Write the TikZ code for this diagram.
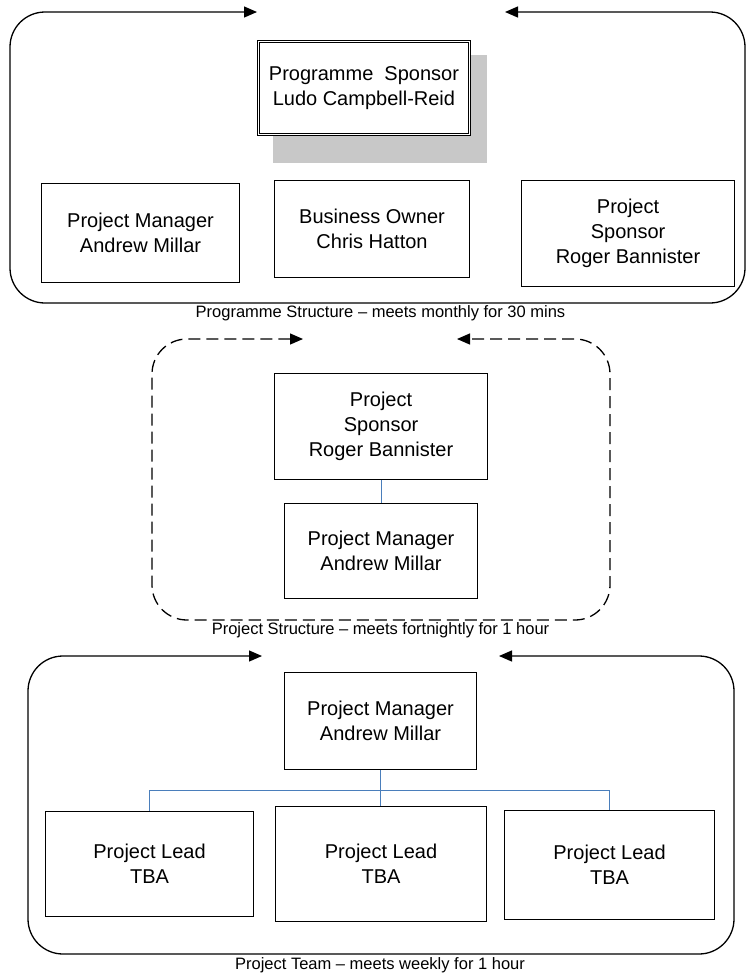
\documentclass[tikz,border=0pt]{standalone}
\usepackage{fontspec}
\setmainfont{Liberation Sans}
\usetikzlibrary{arrows.meta}
\definecolor{connblue}{RGB}{74,126,187}
\definecolor{shadegray}{RGB}{200,200,200}
\begin{document}
\begin{tikzpicture}[x=1pt,y=-1pt,
  box/.style={draw,line width=1.1pt,fill=white,align=center,inner sep=0pt,anchor=north west,
    font=\fontsize{20}{25}\selectfont},
  frame/.style={line width=1.3pt,rounded corners=35pt,
    {Triangle[length=13pt,width=11pt]}-{Triangle[length=13pt,width=11pt]}},
  captext/.style={font=\fontsize{16.5}{18}\selectfont,inner sep=0pt},
  conn/.style={draw=connblue,line width=1pt}]
\useasboundingbox (0,0) rectangle (747,978);

% ---- Programme structure ----
\coordinate (a1) at (257,12);
\coordinate (a2) at (505,12);
\draw[frame] (a1) -- (10,12) -- (10,303) -- (745,303) -- (745,12) -- (a2);
\fill[shadegray] (273,55) rectangle (487,163);
\node[box,line width=0.9pt,minimum width=213pt,minimum height=95pt] (psp) at (257,40)
  {Programme~~Sponsor\\Ludo Campbell-Reid};
\draw[line width=0.9pt] ([shift={(2.8,2.8)}]psp.north west) rectangle ([shift={(-2.8,-2.8)}]psp.south east);
\node[box,minimum width=198pt,minimum height=99pt] (pm1) at (41,183)
  {Project Manager\\Andrew Millar};
\node[box,minimum width=195pt,minimum height=97pt] (bo) at (274,179.5)
  {Business Owner\\Chris Hatton};
\node[box,minimum width=213pt,minimum height=106pt] (ps1) at (521,179.5)
  {Project\\Sponsor\\Roger Bannister};
\node[captext] (c1) at (380.5,313) {Programme Structure – meets monthly for 30 mins};

% ---- Project structure ----
\coordinate (b1) at (303,339);
\coordinate (b2) at (457,339);
\draw[frame,dash pattern=on 12pt off 6pt] (b1) -- (152,339) -- (152,620) -- (610,620) -- (610,339) -- (b2);
\node[box,minimum width=213pt,minimum height=106pt] (ps2) at (274,373)
  {Project\\Sponsor\\Roger Bannister};
\node[box,minimum width=193pt,minimum height=95pt] (pm2) at (284,503)
  {Project Manager\\Andrew Millar};
\draw[conn] (ps2.south) -- (ps2.south |- pm2.north);
\node[captext] (c2) at (380.5,630) {Project Structure – meets fortnightly for 1 hour};

% ---- Project team ----
\coordinate (d1) at (262,656);
\coordinate (d2) at (499,656);
\draw[frame] (d1) -- (28,656) -- (28,954) -- (734,954) -- (734,656) -- (d2);
\node[box,minimum width=192pt,minimum height=97pt] (pm3) at (284,672)
  {Project Manager\\Andrew Millar};
\node[box,minimum width=208pt,minimum height=105pt] (tl1) at (45,811)
  {Project Lead\\TBA};
\node[box,minimum width=211pt,minimum height=115pt] (tl2) at (275,806)
  {Project Lead\\TBA};
\node[box,minimum width=210pt,minimum height=109pt] (tl3) at (504,810)
  {Project Lead\\TBA};
\coordinate (bus) at (380,790);
\draw[conn] (pm3.south) -- (pm3.south |- bus) -| (tl1.north);
\draw[conn] (pm3.south |- bus) -| (tl3.north);
\draw[conn] (pm3.south |- bus) -- (pm3.south |- tl2.north);
\node[captext] (c3) at (380,965) {Project Team – meets weekly for 1 hour};
\end{tikzpicture}
\end{document}
